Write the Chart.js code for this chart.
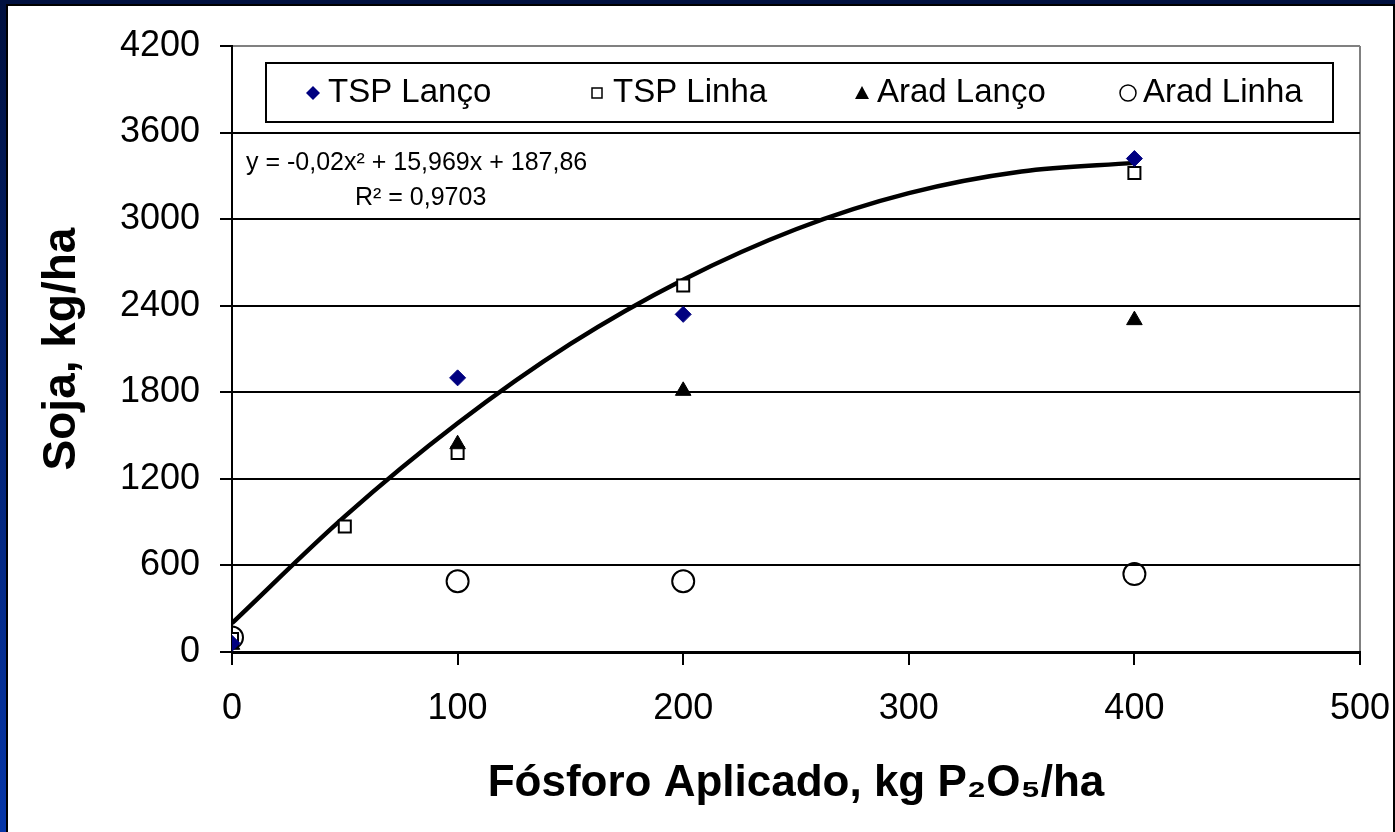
<!DOCTYPE html>
<html>
<head>
<meta charset="utf-8">
<script src="https://cdn.jsdelivr.net/npm/chart.js@4.4.0/dist/chart.umd.min.js"></script>
<style>
  html, body { margin: 0; padding: 0; }
  body { width: 1395px; height: 832px; overflow: hidden; position: relative;
         background: linear-gradient(to bottom, #00103f, #0636a8); }
  #frame { position: absolute; left: 6px; top: 4px; width: 1389px; height: 828px; background: #000; }
  #wrap { position: absolute; left: 2px; top: 2px; width: 1385px; height: 826px; background: #fff; }
  canvas { display: block; }
</style>
</head>
<body>
<div id="frame"><div id="wrap"><canvas id="sojaChart" width="1385" height="826" style="width:1385px;height:826px"></canvas></div></div>
<script>
// values
const tspLancoX = [0, 100, 200, 400];
const tspLancoY = [60, 1900, 2340, 3420];
const tspLinhaX = [0, 50, 100, 200, 400];
const tspLinhaY = [90, 870, 1380, 2540, 3320];
const aradLancoX = [0, 100, 200, 400];
const aradLancoY = [50, 1440, 1810, 2300];
const aradLinhaX = [0, 100, 200, 400];
const aradLinhaY = [100, 490, 490, 540];
// polynomial trendline, read at every 50 kg
const trendX = [0, 50, 100, 150, 200, 250, 300, 350, 400];
const trendY = [200, 940, 1585, 2135, 2580, 2930, 3180, 3330, 3390];

const seriesNames = ["TSP Lanço", "TSP Linha", "Arad Lanço", "Arad Linha"];
const equationText = "y = -0,02x² + 15,969x + 187,86";
const r2Text = "R² = 0,9703";

const FONT = "'Liberation Sans', Arial, sans-serif";

function pts(xs, ys) {
  return xs.map((x, i) => ({ x: x, y: ys[i] }));
}

// legend box + equation label, drawn on top of the plot
const boxLegend = {
  id: "boxLegend",
  afterDraw(chart) {
    const ctx = chart.ctx;
    ctx.save();
    ctx.fillStyle = "#fff";
    ctx.fillRect(258, 57, 1067, 59);
    ctx.strokeStyle = "#000";
    ctx.lineWidth = 2;
    ctx.strokeRect(258, 57, 1067, 59);

    const cy = 87;
    // diamond
    ctx.fillStyle = "#000080";
    ctx.beginPath();
    ctx.moveTo(305, cy - 7); ctx.lineTo(312, cy); ctx.lineTo(305, cy + 7); ctx.lineTo(298, cy);
    ctx.closePath(); ctx.fill();
    // open square
    ctx.fillStyle = "#fff";
    ctx.lineWidth = 1.5;
    ctx.fillRect(584, cy - 5, 10, 10);
    ctx.strokeRect(584, cy - 5, 10, 10);
    // triangle
    ctx.fillStyle = "#000";
    ctx.beginPath();
    ctx.moveTo(854, cy - 7); ctx.lineTo(861, cy + 6); ctx.lineTo(847, cy + 6);
    ctx.closePath(); ctx.fill();
    // open circle
    ctx.beginPath();
    ctx.arc(1120, cy, 8, 0, Math.PI * 2);
    ctx.stroke();

    ctx.fillStyle = "#000";
    ctx.font = "33px " + FONT;
    ctx.textBaseline = "middle";
    ctx.textAlign = "left";
    const textX = [320, 605, 869, 1135];
    seriesNames.forEach((n, i) => ctx.fillText(n, textX[i], cy));

    ctx.font = "25px " + FONT;
    ctx.fillText(equationText, 238, 157);
    ctx.fillText(r2Text, 347, 192);
    ctx.restore();
  }
};

const sojaChart = new Chart(document.getElementById("sojaChart"), {
  type: "scatter",
  data: {
    datasets: [
      {
        label: seriesNames[0],
        data: pts(tspLancoX, tspLancoY),
        pointStyle: "rectRot",
        pointRadius: 8,
        backgroundColor: "#000080",
        borderColor: "#000080",
        borderWidth: 1,
        order: 0,
      },
      {
        label: seriesNames[1],
        data: pts(tspLinhaX, tspLinhaY),
        pointStyle: "rect",
        pointRadius: 8.5,
        backgroundColor: "#fff",
        borderColor: "#000",
        borderWidth: 2,
        order: 2,
      },
      {
        label: seriesNames[2],
        data: pts(aradLancoX, aradLancoY),
        pointStyle: "triangle",
        pointRadius: 9,
        backgroundColor: "#000",
        borderColor: "#000",
        borderWidth: 1,
        order: 1,
      },
      {
        label: seriesNames[3],
        data: pts(aradLinhaX, aradLinhaY),
        pointStyle: "circle",
        pointRadius: 11,
        backgroundColor: "rgba(0,0,0,0)",
        borderColor: "#000",
        borderWidth: 2,
        order: 3,
      },
      {
        label: "Tendência",
        type: "line",
        data: pts(trendX, trendY),
        showLine: true,
        pointRadius: 0,
        borderColor: "#000",
        borderWidth: 4.5,
        cubicInterpolationMode: "monotone",
        fill: false,
        order: 4,
      },
    ],
  },
  options: {
    responsive: false,
    animation: false,
    devicePixelRatio: 1,
    layout: { padding: { left: 0, top: 40, right: 33, bottom: 0 } },
    plugins: {
      legend: { display: false },
      tooltip: { enabled: false },
    },
    scales: {
      x: {
        type: "linear",
        min: 0,
        max: 500,
        ticks: { stepSize: 100, color: "#000", padding: 22, maxRotation: 0, font: { family: FONT, size: 36 },
                 callback: (v) => String(v) },
        grid: {
          color: (c) => (c.tick && c.tick.value === 500 ? "#808080" : "rgba(0,0,0,0)"),
          lineWidth: 2,
          tickColor: "#000",
          tickWidth: 2,
          tickLength: 13,
        },
        border: { color: "#000", width: 3 },
        title: {
          display: true,
          text: "Fósforo Aplicado, kg P₂O₅/ha",
          color: "#000",
          font: { family: FONT, size: 44, weight: "bold" },
          padding: { top: 0, bottom: 22 },
        },
        afterFit: (s) => { s.height = 180; s.paddingLeft = 0; s.paddingRight = 0; },
      },
      y: {
        min: 0,
        max: 4200,
        ticks: { stepSize: 600, color: "#000", padding: 20, font: { family: FONT, size: 36 },
                 callback: (v) => String(v) },
        grid: {
          color: (c) => (c.tick && c.tick.value === 4200 ? "#808080" : "#000"),
          lineWidth: 2,
          tickColor: "#000",
          tickWidth: 2,
          tickLength: 12,
        },
        border: { color: "#000", width: 2 },
        title: {
          display: true,
          text: "Soja, kg/ha",
          color: "#000",
          font: { family: FONT, size: 46, weight: "bold" },
          padding: { top: 27, bottom: 0 },
        },
        afterFit: (s) => { s.width = 224; s.paddingTop = 0; s.paddingBottom = 0; },
      },
    },
  },
  plugins: [boxLegend],
});
</script>
</body>
</html>
